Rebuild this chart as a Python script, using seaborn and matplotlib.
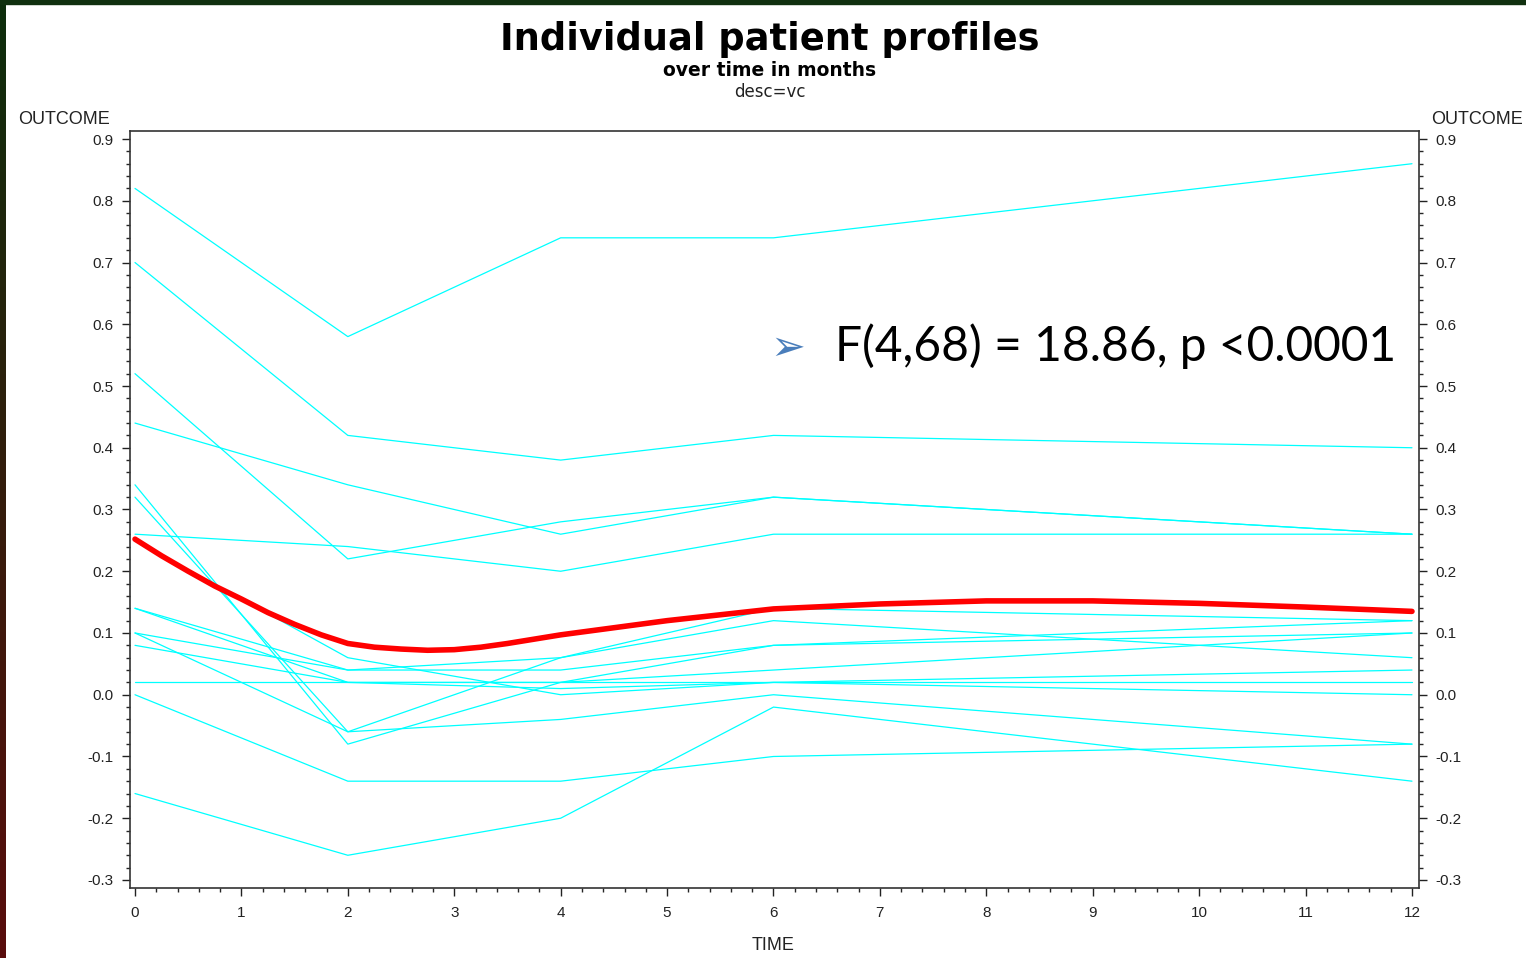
import numpy as np
import pandas as pd
import matplotlib.pyplot as plt
import seaborn as sns
from matplotlib.ticker import MultipleLocator
from matplotlib.patches import Rectangle

# visit times (months) and individual patient outcomes
months = [0, 2, 4, 6, 12]
patients = {
    "A": [0.82, 0.58, 0.74, 0.74, 0.86],
    "B": [0.70, 0.42, 0.38, 0.42, 0.40],
    "C": [0.52, 0.22, 0.28, 0.32, 0.26],
    "D": [0.44, 0.34, 0.26, 0.32, 0.26],
    "E": [0.26, 0.24, 0.20, 0.26, 0.26],
    "F": [0.34, -0.08, 0.02, 0.08, 0.12],
    "G": [0.32, -0.06, 0.06, 0.14, 0.12],
    "H": [0.25, 0.06, 0.00, 0.02, 0.04],
    "I": [0.14, 0.04, 0.06, 0.12, 0.06],
    "J": [0.14, 0.02, 0.02, 0.04, 0.10],
    "K": [0.10, 0.04, 0.04, 0.08, 0.10],
    "L": [0.10, -0.06, -0.04, 0.00, -0.08],
    "M": [0.08, 0.02, 0.01, 0.02, 0.00],
    "N": [0.02, 0.02, 0.02, 0.02, 0.02],
    "O": [0.00, -0.14, -0.14, -0.10, -0.08],
    "P": [-0.16, -0.26, -0.20, -0.02, -0.14],
}

# smoothed mean profile (red)
mean_time = [0, 0.25, 0.5, 0.75, 1, 1.25, 1.5, 1.75, 2, 2.25, 2.5, 2.75, 3,
             3.25, 3.5, 3.75, 4, 5, 6, 7, 8, 9, 10, 11, 12]
mean_outcome = [0.252, 0.225, 0.200, 0.176, 0.155, 0.133, 0.114, 0.097, 0.083,
                0.077, 0.074, 0.072, 0.073, 0.077, 0.083, 0.090, 0.097, 0.120,
                0.139, 0.147, 0.152, 0.152, 0.148, 0.142, 0.135]

rows = []
for pid, vals in patients.items():
    for t, v in zip(months, vals):
        rows.append({"patient": pid, "TIME": t, "OUTCOME": v})
df = pd.DataFrame(rows)
mean_df = pd.DataFrame({"TIME": mean_time, "OUTCOME": mean_outcome})

sns.set_style("ticks")
plt.rcParams["font.family"] = ["Liberation Sans", "DejaVu Sans"]

W, H = 1526, 958
fig = plt.figure(figsize=(W / 100, H / 100), dpi=100)
fig.patch.set_facecolor("white")

# slide frame: dark gradient strip on the left and top
grad = fig.add_axes([0, 0, 6 / W, 1])
g = np.linspace(0, 1, 200)[:, None]
cols = np.array([[0.05, 0.18, 0.05]]) * (1 - g) + np.array([[0.35, 0.05, 0.05]]) * g
grad.imshow(cols[:, None, :], aspect="auto")
grad.axis("off")
fig.patches.append(Rectangle((0, 1 - 4 / H), 1, 4 / H, transform=fig.transFigure,
                             color="#10300f", zorder=5))

ax = fig.add_axes([130 / W, 1 - 888 / H, (1419 - 130) / W, (888 - 131) / H])

sns.lineplot(data=df, x="TIME", y="OUTCOME", units="patient", estimator=None,
             color="#00FFFF", linewidth=0.9, ax=ax, legend=False)
sns.lineplot(data=mean_df, x="TIME", y="OUTCOME", color="#FF0000",
             linewidth=4, ax=ax, legend=False)

ax.set_xlim(-0.047, 12.066)
ax.set_ylim(-0.313, 0.913)
ax.xaxis.set_major_locator(MultipleLocator(1))
ax.xaxis.set_minor_locator(MultipleLocator(0.2))
ax.yaxis.set_major_locator(MultipleLocator(0.1))
ax.yaxis.set_minor_locator(MultipleLocator(0.02))
ax.yaxis.set_major_formatter(plt.FuncFormatter(lambda v, p: f"{v:.1f}".replace("-0.0", "0.0")))
ax.tick_params(axis="both", which="major", direction="out", length=6, width=1,
               labelsize=11, colors="#222222", pad=6)
ax.tick_params(axis="both", which="minor", direction="out", length=3, width=1)
ax.tick_params(axis="y", which="both", right=True, labelright=True)
ax.tick_params(axis="x", pad=7)
for s in ax.spines.values():
    s.set_linewidth(1.2)
    s.set_color("#333333")
ax.set_xlabel("")
ax.set_ylabel("")

fig.text(18 / W, 1 - 120 / H, "OUTCOME", ha="left", va="center", fontsize=13, color="#222222")
fig.text(1431 / W, 1 - 120 / H, "OUTCOME", ha="left", va="center", fontsize=13, color="#222222")
fig.text(773 / W, 1 - 945 / H, "TIME", ha="center", va="center", fontsize=13, color="#222222")

fig.text(770 / W, 1 - 40 / H, "Individual patient profiles", ha="center", va="center",
         fontsize=26.5, fontweight="bold", color="black", family=["DejaVu Sans"])
fig.text(770 / W, 1 - 70 / H, "over time in months", ha="center", va="center",
         fontsize=13.5, fontweight="bold", color="black", family=["DejaVu Sans"])
fig.text(770 / W, 1 - 92 / H, "desc=vc", ha="center", va="center",
         fontsize=12, color="#222222", family=["DejaVu Sans"])

fig.text(788 / W, 1 - 348 / H, "\u27a2", ha="center", va="center", fontsize=30,
         color="#4A7EBB", family=["DejaVu Sans"])
fig.text(835 / W, 1 - 346 / H, "F(4,68) = 18.86, p <0.0001", ha="left", va="center",
         fontsize=34.5, color="black", family=["Lato", "DejaVu Sans"])

fig.savefig("out.png", dpi=100)
